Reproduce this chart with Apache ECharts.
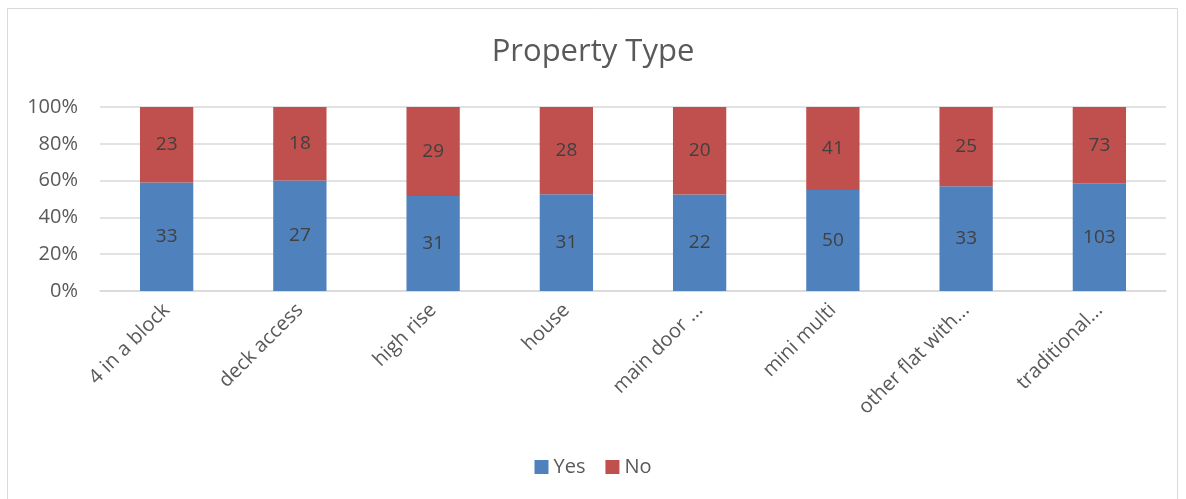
<!DOCTYPE html>
<html>
<head>
<meta charset="utf-8">
<script src="https://cdn.jsdelivr.net/npm/echarts@6/dist/echarts.min.js"></script>
<style>
  html, body { margin: 0; padding: 0; background: #fff; }
  #chart { width: 1186px; height: 499px; }
</style>
</head>
<body>
<div id="chart"></div>
<script>
// property types and Yes/No counts
const categories = ['4 in a block', 'deck access', 'high rise', 'house', 'main door ...', 'mini multi', 'other flat with...', 'traditional...'];
const yesCounts = [33, 27, 31, 31, 22, 50, 33, 103];
const noCounts = [23, 18, 29, 28, 20, 41, 25, 73];
const yTicks = ['0%', '20%', '40%', '60%', '80%', '100%'];

const FONT = 'Open Sans';
const totals = yesCounts.map((v, i) => v + noCounts[i]);
// 100% stacked: plot shares, label with raw counts
const toShare = (arr) => arr.map((v, i) => ({ value: v / totals[i] * 100, raw: v }));

const labelOpt = {
    show: true,
    position: 'inside',
    color: '#404040',
    fontFamily: FONT,
    fontSize: 19,
    formatter: (p) => p.data.raw
};

const myChart = echarts.init(document.getElementById('chart'));
myChart.setOption({
    animation: false,
    textStyle: { fontFamily: FONT },
    title: {
        text: 'Property Type',
        left: 'center',
        top: 32,
        textStyle: { fontFamily: FONT, fontSize: 31, fontWeight: 'normal', color: '#595959' }
    },
    graphic: [{
        type: 'rect',
        shape: { x: 7.5, y: 8.5, width: 1170, height: 500 },
        style: { fill: 'none', stroke: '#d9d9d9', lineWidth: 1 },
        silent: true
    }],
    legend: {
        bottom: 17,
        left: 'center',
        itemWidth: 14,
        itemHeight: 14,
        itemGap: 20,
        icon: 'rect',
        textStyle: { fontFamily: FONT, fontSize: 20, color: '#595959' },
        data: ['Yes', 'No']
    },
    grid: { left: 100, right: 20, top: 107, bottom: 208, containLabel: false },
    xAxis: {
        type: 'category',
        data: categories,
        axisLine: { lineStyle: { color: '#d9d9d9', width: 1.5 } },
        axisTick: { show: false },
        axisLabel: { rotate: 45, interval: 0, margin: 16, color: '#595959', fontFamily: FONT, fontSize: 20 }
    },
    yAxis: {
        type: 'value',
        min: 0,
        max: 100,
        interval: 20,
        axisLine: { show: false },
        axisTick: { show: false },
        splitLine: { lineStyle: { color: '#d9d9d9', width: 1.5 } },
        axisLabel: {
            margin: 22,
            color: '#595959',
            fontFamily: FONT,
            fontSize: 20,
            formatter: (v) => yTicks[Math.round(v / 20)]
        }
    },
    series: [
        {
            name: 'Yes', type: 'bar', stack: 'total', barWidth: '40%',
            itemStyle: { color: '#4f81bd' },
            label: labelOpt,
            data: toShare(yesCounts)
        },
        {
            name: 'No', type: 'bar', stack: 'total', barWidth: '40%',
            itemStyle: { color: '#c0504d' },
            label: labelOpt,
            data: toShare(noCounts)
        }
    ]
});
</script>
</body>
</html>
